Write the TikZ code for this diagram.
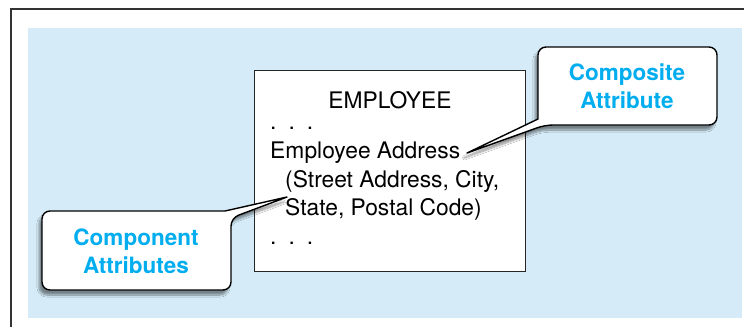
\documentclass[tikz,border=0pt]{standalone}
\usepackage{fontspec}
\setmainfont{TeX Gyre Heros}
\usetikzlibrary{shadows.blur}
\definecolor{bgblue}{RGB}{213,236,248}
\definecolor{calloutcyan}{RGB}{0,173,239}
\begin{document}
\begin{tikzpicture}[x=1pt,y=-1pt,
  boxtext/.style={anchor=base west, inner sep=0pt, font=\fontsize{22.8}{27}\selectfont},
  callouttext/.style={anchor=base, inner sep=0pt, font=\fontsize{22.5}{27}\selectfont\bfseries, text=calloutcyan},
  callout/.style={draw=black, line width=1.4pt, fill=white, line join=round,
    blur shadow={shadow xshift=-3pt, shadow yshift=-5pt, shadow blur steps=10, shadow opacity=45}}]
\useasboundingbox (0,0) rectangle (744,327);
\fill[white] (0,0) rectangle (744,327);
\draw[line width=1.2pt, black!80] (11,327) -- (11,9) -- (744,9);
\fill[bgblue] (28,28) rectangle (742,318);
\node[draw=black!85, line width=1pt, fill=white, minimum width=271pt, minimum height=201pt,
  anchor=north west, inner sep=0pt] (emp) at (254,70) {};
\node[boxtext, anchor=base] (title) at (390,108) {EMPLOYEE};
\node[boxtext] (dotsA) at (270,129) {.\hspace{12pt}.\hspace{12pt}.};
\node[boxtext] (addr) at (270,158) {Employee Address};
\node[boxtext] (compA) at (285,187) {(Street Address, City,};
\node[boxtext] (compB) at (285,215) {State, Postal Code)};
\node[boxtext] (dotsB) at (270,244) {.\hspace{12pt}.\hspace{12pt}.};
\coordinate (tipA) at (467,153);
\coordinate (tipB) at (287,197);
\draw[callout] (tipA) -- (538,119) [rounded corners=8pt] -- (538,47) -- (717,47) -- (717,125) -- (545,125) [sharp corners] -- cycle;
\draw[callout] (tipB) -- (225,211) [rounded corners=8pt] -- (42,211) -- (42,290) -- (231,290) -- (231,218) [sharp corners] -- cycle;
\node[callouttext] (caA) at (627,80) {Composite};
\node[callouttext] (caB) at (627,108) {Attribute};
\node[callouttext] (cbA) at (136,245) {Component};
\node[callouttext] (cbB) at (136,273) {Attributes};
\end{tikzpicture}
\end{document}
